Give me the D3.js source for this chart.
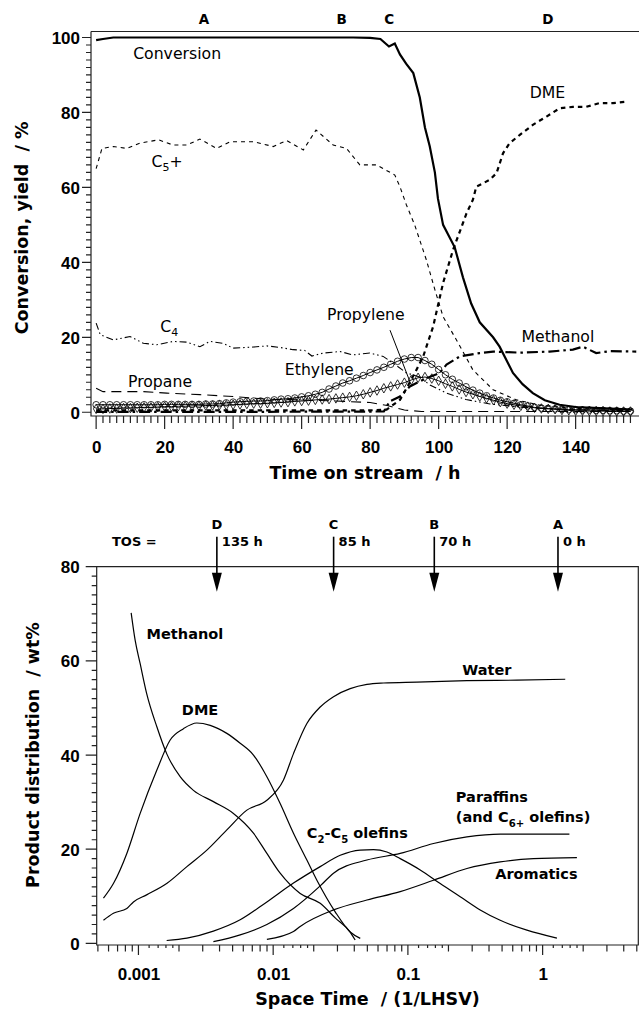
<!DOCTYPE html>
<html>
<head>
<meta charset="utf-8">
<script src="https://cdn.jsdelivr.net/npm/d3@7"></script>
<style>
  body { margin: 0; background: #fff; }
  svg { display: block; font-family: "DejaVu Sans", sans-serif; }
  .ax text { font-weight: bold; font-size: 17px; fill: #000; }
  .ax .domain { stroke: #222; stroke-width: 1.2; fill: none; }
  .note { font-size: 15.7px; fill: #000; }
  .bnote { font-size: 14.5px; font-weight: bold; fill: #000; }
  .ttl { font-size: 17.5px; font-weight: bold; white-space: pre; }
</style>
</head>
<body>
<svg id="chart" width="639" height="1012"></svg>
<script>
// Top panel: time on stream (h) vs conversion / yield (%)
const conversion = [[0,99.3],[2,99.6],[5,100],[20,100],[40,100],[60,100],[75,100],[80,99.9],[83,99.6],[85.5,97.6],
  [87.2,98.4],[88.7,95.5],[90.5,93],[92.6,90.5],[94.5,84],[96,76],[97.4,71],[98.9,64],[99.8,57],[101.3,50],
  [104.7,44],[107.1,36],[109.5,29],[112,24],[115.9,20],[117.8,17.5],[121.7,10.5],[124.5,7.5],[127.5,5.1],
  [131,3.2],[135.3,2],[140,1.4],[147,1.1],[156.6,0.7]];
const c5plus = [[0,65],[1.7,70.4],[5,70.9],[9,70.4],[12.8,71.8],[18.2,72.7],[22.5,71.3],[26.5,71.3],[30.3,72.9],
  [35.2,70.4],[39.1,72.2],[46,72.2],[51.7,70.9],[55.6,72.5],[60.5,70],[64.2,75.3],[69.2,71.3],[73.1,70.4],
  [77,66],[81.9,66],[87.2,63.3],[88.7,60.2],[90.6,55.3],[93,50],[96.4,40.7],[98.9,32.7],[101.3,25.5],
  [105.2,19.3],[110,11.3],[115.9,6],[122.7,3.3],[130,1.8],[140,1],[156,0.6]];
const c4 = [[0,23.8],[1.2,20.7],[5,19.3],[9.9,20.2],[13.8,18.4],[17.7,18],[22.5,18.9],[26.5,18.7],[30.3,17.5],
  [33.2,18.9],[37.1,18.4],[40,17.1],[46,17.4],[49.8,17.7],[53.7,17.3],[57.5,16.7],[60.9,16.5],[63,15],
  [66.3,15.8],[71.2,16.2],[75,15.3],[79.9,15.8],[83.8,14.9],[86.7,13.1],[90.6,10.5],[94.5,9.4],[97.4,7.3],
  [102.3,5.1],[108,3.4],[115,2.2],[125,1.3],[140,0.7],[156,0.4]];
const propane = [[0,6.4],[2,5.5],[7,5.5],[13.8,5.5],[20.6,5.1],[30.3,4.7],[40,4.2],[49.8,3.5],[59.5,3.3],
  [70,3.0],[80,2.6],[85,1.8],[90,0.6],[95,0.2],[156,0.2]];
const dme = [[0,0.5],[20,0.5],[40,0.5],[60,0.5],[80,0.5],[84.8,0.7],[88.7,3.3],[91,7],[93.5,11.3],[95.5,14.9],
  [98.4,22.9],[101.3,34.5],[104.2,43.3],[107.1,50.5],[108.1,53],[110,56.7],[111,60.2],[114.9,62],[116.9,63.8],
  [118.8,69.1],[120.7,71.8],[123.7,74],[127.5,76.7],[131.5,78.9],[135.3,81.1],[139.2,81.5],[143.1,81.5],
  [147,82.5],[150.9,82.5],[155.3,82.9]];
const methanol = [[0,0.1],[40,0.1],[84,0.2],[85.7,2.9],[88.7,4.2],[91.6,6.9],[95.5,8.7],[100.3,10.5],[102.3,12.7],
  [106.2,14.9],[112,15.8],[115.9,16.2],[123.7,15.9],[132.4,16.2],[139.2,16.7],[142.1,17.5],[146,15.8],
  [150,16.3],[157.7,16.2]];
// marker series (one value per marker)
const markHours = [0,2,4,6,8,10,12,14,16,18,20,22,24,26,28,30,32,34,36,38,40,42,44,46,48,50,52,54,56,58,
  60,62,64,66,68,70,72,74,76,78,80,82,84,86,88,90,92,94,96,98,100,102,104,106,108,110,112,114,116,118,
  120,122,124,126,128,130,132,134,136,138,140,142,144,146,148,150,152,154,156];
const ethylene = [2.0,2.0,2.0,2.0,2.0,2.0,2.0,2.0,2.0,2.0, 2.1,2.1,2.1,2.1,2.1,2.1,2.2,2.2,2.3,2.5,
  2.7,2.8,2.9,3.0,3.0,3.1,3.3,3.5,3.6,3.8, 4.1,4.4,4.8,5.3,6.2,7.0,7.8,8.4,9.1,9.8,
  10.6,11.3,12.0,12.8,13.6,14.2,14.6,14.6,13.8,12.8, 11.4,10.0,8.8,7.8,6.8,5.9,5.1,4.4,3.8,3.2,
  2.8,2.4,2.0,1.7,1.3,1.1,1.0,0.9,0.8,0.7, 0.7,0.6,0.6,0.5,0.5,0.4,0.4,0.3,0.3];
const propylene = [0.9,0.9,1.0,1.0,1.1,1.1,1.2,1.3,1.3,1.4, 1.5,1.5,1.6,1.6,1.7,1.7,1.8,1.8,1.9,1.9,
  2.0,2.1,2.2,2.3,2.3,2.4,2.5,2.6,2.7,2.9, 3.0,3.1,3.3,3.4,3.5,3.7,3.9,4.1,4.4,4.8,
  5.3,5.8,6.4,6.9,7.4,7.9,8.6,9.2,9.4,9.0, 8.4,7.6,6.9,6.1,5.4,4.8,4.2,3.7,3.2,2.7,
  2.3,2.0,1.7,1.5,1.2,1.0,0.9,0.8,0.6,0.5, 0.4,0.4,0.3,0.3,0.3,0.2,0.2,0.2,0.2];
const xTicksTop = [0,20,40,60,80,100,120,140];
const yTicksTop = [0,20,40,60,80,100];
const phases = [["A",31.5],["B",71.7],["C",85.6],["D",131.9]];
const topNotes = [["Conversion",10.8,94.2],["C_{5}+",16.2,65.5],["DME",126.6,83.8],["C_{4}",18.7,21.5],
  ["Propane",9.3,6.8],["Ethylene",55.1,9.9],["Propylene",67.4,24.6],["Methanol",124.2,18.8]];
const leader = [[85.8,21.9],[91.6,8.2]];

// Bottom panel: space time (1/LHSV) vs product distribution (wt%)
const bMethanol = [[0.000883,70.2],[0.000945,64.4],[0.00103,59.4],[0.00115,53.1],[0.00137,46],[0.00162,40.3],
  [0.00204,35.4],[0.00256,32.5],[0.0036,30.1],[0.00507,27.6],[0.00714,23.4],[0.00898,19.1],[0.01127,14.9],
  [0.01587,10.6],[0.02234,8.5],[0.02886,5.4],[0.0373,2.4],[0.0406,0.7]];
const bDme = [[0.00055,9.6],[0.000652,12.7],[0.00082,19.1],[0.00103,27.6],[0.00137,36.8],[0.00172,43.2],
  [0.00216,45.6],[0.00271,46.8],[0.00341,46.3],[0.00453,44.6],[0.00569,42.5],[0.00714,40],[0.00898,35.4],
  [0.01127,29.7],[0.01415,23.4],[0.01779,17.7],[0.02111,13.4],[0.02886,6.7],[0.0373,2.4],[0.0443,1.06]];
const bWater = [[0.00055,4.9],[0.000652,6.4],[0.00082,7.4],[0.000918,8.8],[0.00115,10.3],[0.00162,12.7],
  [0.00229,16.3],[0.00322,19.8],[0.00453,24.1],[0.00638,28.3],[0.00898,30.4],[0.01193,34.7],[0.01415,40.3],
  [0.01779,46.7],[0.02234,50.2],[0.02804,52.4],[0.0373,54.1],[0.04963,55],[0.06591,55.3],[0.1166,55.5],
  [0.2742,55.8],[0.6446,55.9],[1.472,56.1]];
const bOlefins = [[0.00162,0.6],[0.00229,1.1],[0.0036,2.6],[0.00569,5.0],[0.00898,8.8],[0.01415,12.8],
  [0.02234,16.3],[0.03144,18.7],[0.04426,19.8],[0.05555,19.9],[0.06985,19.4],[0.08767,18],[0.1234,15.6],
  [0.1737,12.7],[0.2445,9.9],[0.3441,7.1],[0.4844,4.9],[0.7643,2.8],[1.277,1.1]];
const bParaffins = [[0.0036,0.35],[0.00569,1.8],[0.00898,4.0],[0.01415,7.4],[0.02234,12.2],[0.02804,14.9],
  [0.04963,17.7],[0.08767,19.1],[0.1549,21.2],[0.2742,22.6],[0.4844,23.2],[1.58,23.2]];
const bAromatics = [[0.00898,0.85],[0.01415,2.5],[0.01587,3.6],[0.02804,7.1],[0.04963,9.2],[0.08767,11],
  [0.1549,13.4],[0.2742,15.9],[0.4844,17.3],[0.8558,18],[1.797,18.2]];
const xTicksBot = [0.001,0.01,0.1,1];
const yTicksBot = [0,20,40,60,80];
const tosMarks = [["D","135 h",0.00382],["C","85 h",0.0281],["B","70 h",0.157],["A","0 h",1.30]];
const botNotes = [["Methanol",0.00115,64.6],["DME",0.0021,48.5],["Water",0.253,57.1],["Paraffins",0.227,30.1],
  ["(and C_{6+} olefins)",0.227,25.7],["C_{2}-C_{5} olefins",0.01779,22.3],["Aromatics",0.4446,13.6]];

const svg = d3.select("#chart");
const ink = "#000";

// text with _{sub} parts
function rich(t, str, fs) {
  let down = false;
  str.split(/(_\{[^}]*\})/).forEach(p => {
    if (!p) return;
    if (p.startsWith("_{")) {
      t.append("tspan").attr("font-size", fs * 0.7).attr("dy", fs * 0.3).text(p.slice(2, -1));
      down = true;
    } else {
      const s = t.append("tspan").text(p);
      if (down) { s.attr("dy", -fs * 0.3); down = false; }
    }
  });
}

// labelled d3 axis (no tick lines) placed on the axis line
function axisG(parent, tr, axis) {
  const g = parent.append("g").attr("class", "ax").attr("transform", tr).call(axis);
  g.selectAll(".tick line").remove();
  g.select(".domain").remove();
  return g;
}
// tick comb drawn as one styled path in an axis group
function tickPath(parent, segs) {
  parent.append("g").attr("class", "ax").append("path").attr("class", "domain")
    .attr("d", segs.join(""));
}
const leftTicks = (scale, x0, vals, len) => vals.map(v => `M${x0},${scale(v)}H${x0 - len}`);
const downTicks = (scale, y0, vals, len) => vals.map(v => `M${scale(v)},${y0}V${y0 + len}`);

// ---------- top panel
const xT = d3.scaleLinear().domain([-1.5, 158.5]).range([91, 639]);
const yT = d3.scaleLinear().domain([-1, 101.6]).range([416, 31.5]);
const gT = svg.append("g");
const [x0T, x1T] = xT.range(), [y0T, y1T] = yT.range();

// frame: left axis, bottom axis, top line, plus tick combs
tickPath(gT, [`M${x0T},${y1T}H${x1T}`, `M${x0T},${y1T}V${y0T}H${x1T}`,
  ...leftTicks(yT, x0T, d3.range(0, 101, 2), 5), ...leftTicks(yT, x0T, yTicksTop, 9),
  ...downTicks(xT, y0T, d3.range(0, 157, 2), 7), ...downTicks(xT, y0T, xTicksTop, 13)]);
axisG(gT, `translate(${x0T},0)`, d3.axisLeft(yT).tickValues(yTicksTop).tickFormat(d3.format("d")))
  .selectAll("text").attr("x", -11).attr("dy", "0.36em");
axisG(gT, `translate(0,${y0T})`, d3.axisBottom(xT).tickValues(xTicksTop).tickFormat(d3.format("d")))
  .selectAll("text").attr("y", 31).attr("dy", "0.36em");
gT.selectAll(".ph").data(phases).join("text").attr("class", "ph")
  .attr("x", d => xT(d[1])).attr("y", y1T - 8).attr("text-anchor", "middle")
  .attr("font-size", 13.5).attr("font-weight", "bold").text(d => d[0]);

gT.append("text").attr("class", "ttl").attr("text-anchor", "middle")
  .attr("transform", `translate(28,${(yT(0) + yT(100)) / 2 + 3}) rotate(-90)`).text("Conversion, yield  / %");
gT.append("text").attr("class", "ttl").attr("text-anchor", "middle")
  .attr("x", (x0T + x1T) / 2).attr("y", 479).text("Time on stream  / h");

const lineT = d3.line().x(d => xT(d[0])).y(d => yT(d[1]));
function drawT(data, dash, w) {
  gT.append("path").datum(data).attr("fill", "none").attr("stroke", ink)
    .attr("stroke-width", w).attr("stroke-dasharray", dash).attr("d", lineT);
}
drawT(propane, "10,6", 1.1);
drawT(c4, "7,3,1.5,3,1.5,3", 1.1);
drawT(c5plus, "4,4", 1.1);
drawT(methanol, "11,4,2.5,4", 2.2);
drawT(dme, "4.5,4", 2.2);

const eth = markHours.map((h, i) => [h, ethylene[i]]);
const prop = markHours.map((h, i) => [h, propylene[i]]);
drawT(prop, null, 1);
drawT(eth, null, 1);
gT.selectAll(".dm").data(prop).join("path").attr("class", "dm")
  .attr("transform", d => `translate(${xT(d[0])},${yT(d[1])})`)
  .attr("d", d3.symbol(d3.symbolDiamond, 26)).attr("fill", "none").attr("stroke", ink).attr("stroke-width", 0.8);
gT.selectAll(".ci").data(eth).join("circle").attr("class", "ci")
  .attr("cx", d => xT(d[0])).attr("cy", d => yT(d[1])).attr("r", 3.3)
  .attr("fill", "none").attr("stroke", ink).attr("stroke-width", 0.8);
drawT(conversion, null, 2.2);

gT.append("path").datum(leader).attr("fill", "none").attr("stroke", ink).attr("stroke-width", 1).attr("d", lineT);
topNotes.forEach(n => {
  const t = gT.append("text").attr("class", "note").attr("x", xT(n[1])).attr("y", yT(n[2]));
  rich(t, n[0], 15.7);
});

// ---------- bottom panel
const xB = d3.scaleLog().domain([0.00049, 5.13]).range([96.7, 638.3]);
const yB = d3.scaleLinear().domain([-0.35, 80]).range([945, 566.7]);
const gB = svg.append("g");
const [x0B, x1B] = xB.range(), [y0B, y1B] = yB.range();

const midTicks = [], smallTicks = [];
[-4, -3, -2, -1, 0].forEach(k => {
  [2, 3, 4, 5, 6, 7, 8, 9].forEach(m => midTicks.push(m * Math.pow(10, k)));
  [1.2, 1.4, 1.6, 1.8].forEach(m => smallTicks.push(m * Math.pow(10, k)));
});
const inB = v => v >= xB.domain()[0] && v <= xB.domain()[1];

// full box plus tick combs
tickPath(gB, [`M${x0B},${y1B}H${x1B}V${y0B}H${x0B}Z`,
  ...leftTicks(yB, x0B, d3.range(0, 81, 2), 5), ...leftTicks(yB, x0B, yTicksBot, 11),
  ...downTicks(xB, y0B, smallTicks.filter(inB), 3), ...downTicks(xB, y0B, midTicks.filter(inB), 6.5),
  ...downTicks(xB, y0B, xTicksBot, 10)]);
axisG(gB, `translate(${x0B},0)`, d3.axisLeft(yB).tickValues(yTicksBot).tickFormat(d3.format("d")))
  .selectAll("text").attr("x", -17).attr("dy", "0.36em");
axisG(gB, `translate(0,${y0B})`, d3.axisBottom(xB).tickValues(xTicksBot).tickFormat(d => String(d)))
  .selectAll("text").attr("y", 29).attr("dy", "0.36em");

gB.append("text").attr("class", "ttl").attr("text-anchor", "middle")
  .attr("transform", `translate(39,${(yB(0) + yB(80)) / 2}) rotate(-90)`).text("Product distribution  / wt%");
gB.append("text").attr("class", "ttl").attr("text-anchor", "middle")
  .attr("x", (x0B + x1B) / 2).attr("y", 1005).text("Space Time  / (1/LHSV)");

const lineB = d3.line().curve(d3.curveMonotoneX).x(d => xB(d[0])).y(d => yB(d[1]));
[bMethanol, bDme, bWater, bOlefins, bParaffins, bAromatics].forEach(s => {
  gB.append("path").datum(s).attr("fill", "none").attr("stroke", ink).attr("stroke-width", 1.2).attr("d", lineB);
});
botNotes.forEach(n => {
  const t = gB.append("text").attr("class", "bnote").attr("x", xB(n[1])).attr("y", yB(n[2]));
  rich(t, n[0], 14.5);
});

// TOS arrows
gB.append("text").attr("x", 112).attr("y", y1B - 21).attr("font-size", 13).attr("font-weight", "bold").text("TOS =");
tosMarks.forEach(m => {
  const x = xB(m[2]);
  gB.append("path").attr("fill", "none").attr("stroke", ink).attr("stroke-width", 1.6)
    .attr("d", `M${x},${y1B - 30}V${y1B + 10}`);
  gB.append("path").attr("fill", ink)
    .attr("d", `M${x - 5},${y1B + 6}L${x + 5},${y1B + 6}L${x},${y1B + 25}Z`);
  gB.append("text").attr("x", x).attr("y", y1B - 38).attr("text-anchor", "middle")
    .attr("font-size", 13).attr("font-weight", "bold").text(m[0]);
  gB.append("text").attr("x", x + 5).attr("y", y1B - 21)
    .attr("font-size", 13).attr("font-weight", "bold").text(m[1]);
});
</script>
</body>
</html>
